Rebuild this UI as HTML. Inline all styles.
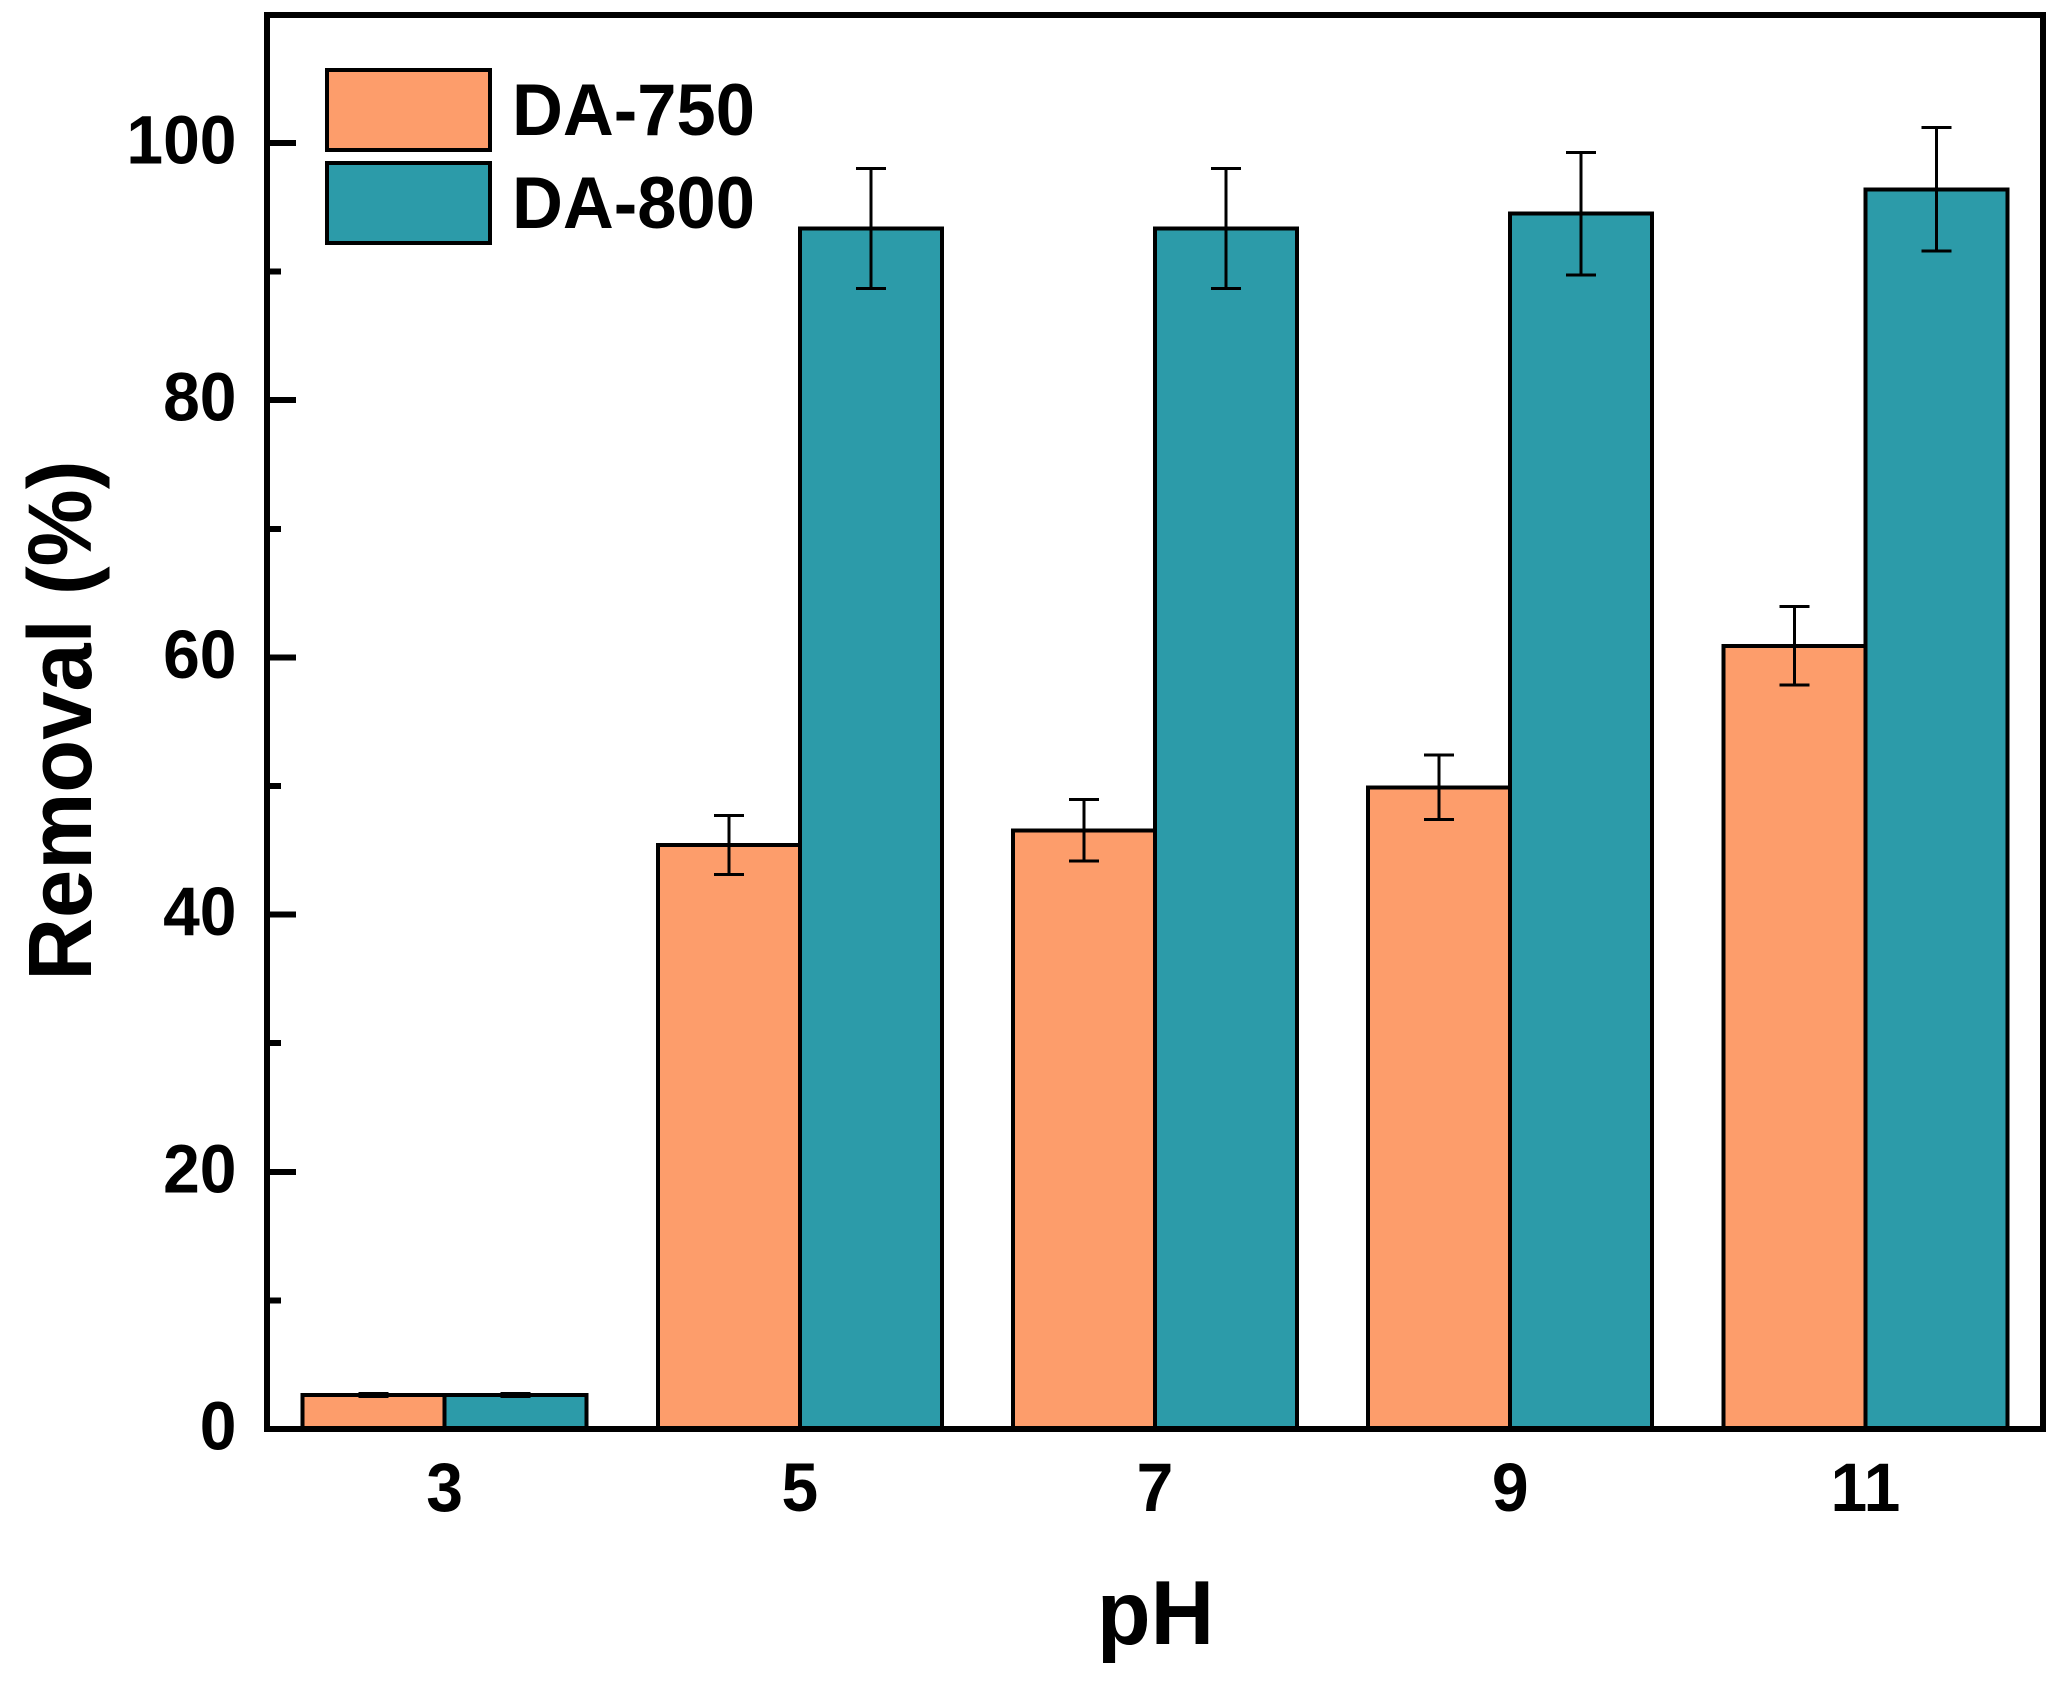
<!DOCTYPE html>
<html lang="en">
<head>
<meta charset="utf-8">
<title>Removal vs pH</title>
<style>
html,body{margin:0;padding:0;background:#fff;}
svg{display:block;}
text{font-family:"Liberation Sans",Arial,sans-serif;font-weight:bold;fill:#000;}
rect,line{shape-rendering:crispEdges;}
</style>
</head>
<body>
<svg id="chart" xmlns="http://www.w3.org/2000/svg" width="2059" height="1682" viewBox="0 0 2059 1682">
<rect x="0" y="0" width="2059" height="1682" fill="#ffffff"/>
<g id="bars"></g>
<g id="errors"></g>
<g id="yaxis"></g>
<g id="xaxis"></g>
<rect x="267" y="15" width="1776" height="1414" fill="none" stroke="#000" stroke-width="6"/>
<text transform="translate(91,720.5) rotate(-90) scale(1,1.035)" text-anchor="middle" font-size="86.7">Removal (%)</text>
<text transform="translate(1155.5,1644) scale(1,1.035)" text-anchor="middle" font-size="88">pH</text>
<g>
<rect x="327" y="70" width="163" height="80" fill="#FD9D6B" stroke="#000" stroke-width="4"/>
<text transform="translate(512,135) scale(1,1.035)" font-size="70.5">DA-750</text>
<rect x="327" y="163" width="163" height="80" fill="#2C9BA9" stroke="#000" stroke-width="4"/>
<text transform="translate(512,228) scale(1,1.035)" font-size="70.5">DA-800</text>
</g>
</svg>
<script>
const categories = ['3', '5', '7', '9', '11'];
const phValues = [3, 5, 7, 9, 11];
const da750Values = [2.64, 45.4, 46.55, 49.9, 60.9];
const da750Errors = [0.12, 2.3, 2.4, 2.5, 3.05];
const da800Values = [2.64, 93.35, 93.35, 94.5, 96.4];
const da800Errors = [0.12, 4.67, 4.67, 4.75, 4.8];
const yMajorTicks = [0, 20, 40, 60, 80, 100];
const yMinorTicks = [10, 30, 50, 70, 90];

const NS = 'http://www.w3.org/2000/svg';
const yScale = v => 1429 - 12.86 * v;
const xScale = ph => 267 + (ph - 2) * 177.6;
const barWidth = 142;

function make(tag, attrs, parent) {
  const el = document.createElementNS(NS, tag);
  Object.keys(attrs).forEach(k => el.setAttribute(k, attrs[k]));
  parent.appendChild(el);
  return el;
}

const barsG = document.getElementById('bars');
const errorsG = document.getElementById('errors');
const yG = document.getElementById('yaxis');
const xG = document.getElementById('xaxis');

function drawSeries(values, errors, offset, color, label) {
  values.forEach((v, i) => {
    const cx = xScale(phValues[i]);
    const left = cx + offset * barWidth;
    const top = yScale(v);
    const bar = make('rect', {x: left, y: top, width: barWidth, height: yScale(0) - top, fill: color, stroke: '#000', 'stroke-width': 4}, barsG);
    
    

    const mid = left + barWidth / 2;
    const hi = yScale(v + errors[i]);
    const lo = yScale(v - errors[i]);
    const stem = make('line', {x1: mid, x2: mid, y1: hi, y2: lo, stroke: '#000', 'stroke-width': 3}, errorsG);
    
    
    [hi, lo].forEach(y => {
      const cap = make('line', {x1: mid - 15, x2: mid + 15, y1: y, y2: y, stroke: '#000', 'stroke-width': 3}, errorsG);
      
      
    });
  });
}
drawSeries(da750Values, da750Errors, -1, '#FD9D6B', 'da-750');
drawSeries(da800Values, da800Errors, 0, '#2C9BA9', 'da-800');

yMajorTicks.forEach(v => {
  const tick = make('line', {x1: 267, x2: 296, y1: yScale(v), y2: yScale(v), stroke: '#000', 'stroke-width': 6}, yG);
  
  
  const label = make('text', {transform: 'translate(236.5,' + (yScale(v) + 20.5) + ') scale(1,1.035)', 'text-anchor': 'end', 'font-size': 66}, yG);
  
  
  label.textContent = String(v);
});
yMinorTicks.forEach(v => {
  const tick = make('line', {x1: 267, x2: 281, y1: yScale(v), y2: yScale(v), stroke: '#000', 'stroke-width': 6}, yG);
  
  
});
categories.forEach((c, i) => {
  const label = make('text', {transform: 'translate(' + xScale(phValues[i]) + ',1511) scale(1,1.035)', 'text-anchor': 'middle', 'font-size': 66}, xG);
  
  
  label.textContent = c;
});
</script>
</body>
</html>
